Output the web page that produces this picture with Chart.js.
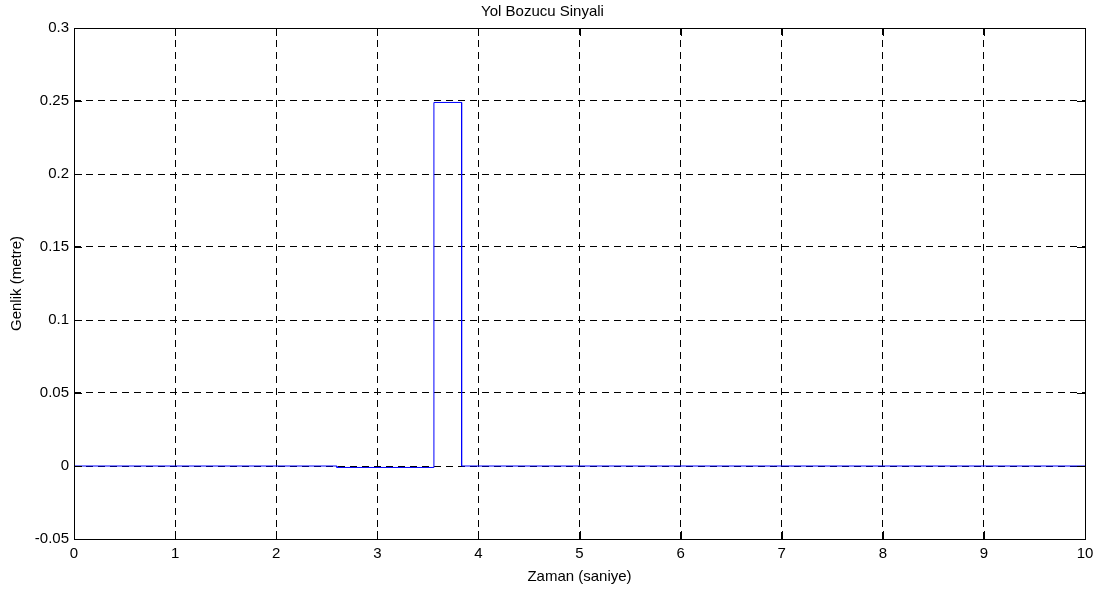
<!DOCTYPE html>
<html lang="tr">
<head>
    <meta charset="UTF-8">
    <title>Yol Bozucu Sinyali</title>
    <script src="https://cdn.jsdelivr.net/npm/chart.js"></script>
    <style>
        body { margin: 0; background: #fff; }
        canvas { display: block; }
    </style>
</head>
<body>
    <canvas id="signalChart" width="1101" height="592"></canvas>

    <script>
        // signal (time in s, amplitude in m)
        const zaman  = [0, 2.6, 2.6, 3.56, 3.56, 3.834, 3.834, 10];
        const genlik = [0, 0, -0.001, -0.001, 0.249, 0.249, 0, 0];

        const xTicks = [0, 1, 2, 3, 4, 5, 6, 7, 8, 9, 10];
        const yTicks = [-0.05, 0, 0.05, 0.1, 0.15, 0.2, 0.25, 0.3];

        const FONT = "'Liberation Sans', Arial, sans-serif";

        // matlab-like box with small inward ticks
        const boxPlugin = {
            id: 'box',
            afterDraw(chart) {
                const ctx = chart.ctx;
                const a = chart.chartArea;
                const xs = chart.scales.x, ys = chart.scales.y;
                const t = 8;
                ctx.save();
                ctx.strokeStyle = '#000';
                ctx.lineWidth = 1;
                ctx.beginPath();
                xTicks.forEach(v => {
                    const px = Math.round(xs.getPixelForValue(v)) + 0.5;
                    ctx.moveTo(px, a.bottom); ctx.lineTo(px, a.bottom - t);
                    ctx.moveTo(px, a.top); ctx.lineTo(px, a.top + t);
                });
                yTicks.forEach(v => {
                    const py = Math.round(ys.getPixelForValue(v)) + 0.5;
                    ctx.moveTo(a.left, py); ctx.lineTo(a.left + t, py);
                    ctx.moveTo(a.right, py); ctx.lineTo(a.right - t, py);
                });
                ctx.stroke();
                ctx.strokeRect(Math.round(a.left) + 0.5, Math.round(a.top) + 0.5,
                    Math.round(a.right - a.left), Math.round(a.bottom - a.top));
                ctx.restore();
            }
        };

        new Chart(document.getElementById('signalChart'), {
            type: 'line',
            data: {
                datasets: [{
                    data: zaman.map((x, i) => ({ x: x, y: genlik[i] })),
                    borderColor: '#0000ff',
                    borderWidth: 1,
                    pointRadius: 0,
                    tension: 0,
                    fill: false
                }]
            },
            options: {
                responsive: false,
                animation: false,
                layout: { padding: { left: 0, right: 16, top: 0, bottom: 0 } },
                plugins: {
                    legend: { display: false },
                    tooltip: { enabled: false },
                    title: {
                        display: true,
                        text: 'Yol Bozucu Sinyali',
                        color: '#000',
                        font: { family: FONT, size: 15, weight: 'normal' },
                        padding: { top: 3, bottom: 7 }
                    }
                },
                scales: {
                    x: {
                        type: 'linear',
                        min: 0,
                        max: 10,
                        afterBuildTicks: s => { s.ticks = xTicks.map(v => ({ value: v })); },
                        afterFit: s => { s.height = 53; },
                        ticks: {
                            color: '#000',
                            padding: 6,
                            maxRotation: 0,
                            font: { family: FONT, size: 15 }
                        },
                        grid: {
                            color: '#000',
                            lineWidth: 1,
                            drawTicks: false
                        },
                        border: { display: false, dash: [7, 5] },
                        title: {
                            display: true,
                            text: 'Zaman (saniye)',
                            color: '#000',
                            font: { family: FONT, size: 15 },
                            padding: { top: 0, bottom: 6 }
                        }
                    },
                    y: {
                        min: -0.05,
                        max: 0.3,
                        afterBuildTicks: s => { s.ticks = yTicks.map(v => ({ value: v })); },
                        afterFit: s => { s.width = 74; },
                        ticks: {
                            color: '#000',
                            padding: 5,
                            font: { family: FONT, size: 15 },
                            callback: v => String(Math.round(v * 100) / 100)
                        },
                        grid: {
                            color: '#000',
                            lineWidth: 1,
                            drawTicks: false
                        },
                        border: { display: false, dash: [7, 5] },
                        title: {
                            display: true,
                            text: 'Genlik (metre)',
                            color: '#000',
                            font: { family: FONT, size: 15 },
                            padding: { top: 8, bottom: 0 }
                        }
                    }
                }
            },
            plugins: [boxPlugin]
        });
    </script>
</body>
</html>
